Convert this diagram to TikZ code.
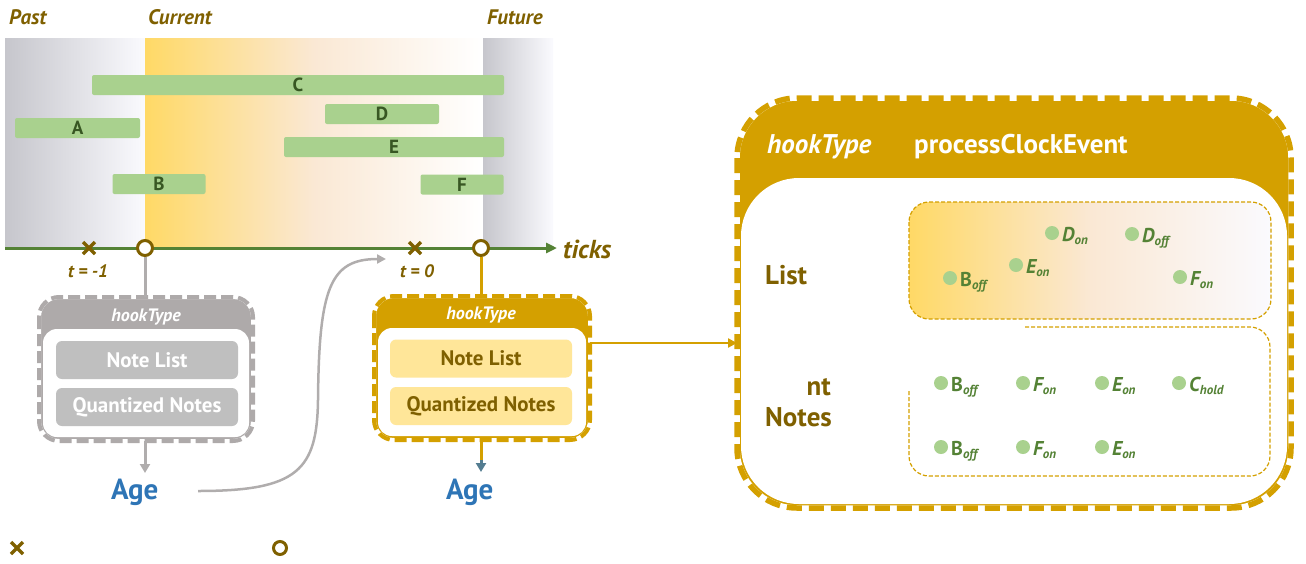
\documentclass[tikz,border=0pt]{standalone}
\usepackage{fontspec}
\setmainfont{PT Sans}
\usetikzlibrary{arrows.meta}

\definecolor{gold}{RGB}{212,160,0}
\definecolor{olive}{RGB}{127,96,0}
\definecolor{axisgreen}{RGB}{84,130,53}
\definecolor{barfill}{RGB}{169,209,142}
\definecolor{bartext}{RGB}{56,87,35}
\definecolor{agentblue}{RGB}{46,117,182}
\definecolor{greybox}{RGB}{174,170,170}
\definecolor{greyinner}{RGB}{191,191,191}
\definecolor{greyline}{RGB}{176,173,173}
\definecolor{paleyellow}{RGB}{255,230,153}
\definecolor{sunyellow}{RGB}{255,217,102}
\definecolor{fogleft}{RGB}{198,198,204}
\definecolor{fogright}{RGB}{250,250,254}
\definecolor{peach}{RGB}{250,232,212}
\definecolor{steeltip}{RGB}{84,125,145}

\newcommand\lowsub[1]{\raisebox{-3pt}{\fontsize{13}{13}\selectfont\itshape #1}}
\newcommand\notedot[4]{%
  \fill[barfill] (#2,#3) circle (7);
  \node[evlabel, anchor=base west] (#1) at (#2+10,#3+8) {#4};}

\begin{document}
\begin{tikzpicture}[x=1pt,y=-1pt,
  toplbl/.style={font=\fontsize{21}{24}\selectfont\bfseries\itshape, text=olive, inner sep=0pt},
  bar/.style={fill=barfill, rounded corners=2pt, inner sep=0pt, minimum height=20pt,
              text=bartext, font=\fontsize{19}{20}\selectfont\bfseries},
  axisline/.style={draw=axisgreen, line width=3pt, -{Triangle[length=11pt,width=10pt]}},
  ring/.style={circle, draw=olive, line width=3pt, fill=white, minimum size=15pt, inner sep=0pt},
  xmk/.style={draw=olive, line width=3.5pt},
  tlbl/.style={font=\fontsize{18}{20}\selectfont\bfseries\itshape, text=olive, inner sep=0pt},
  hooksmall/.style={font=\fontsize{18}{20}\selectfont\bfseries\itshape, text=white, inner sep=0pt},
  greybar/.style={fill=greyinner, rounded corners=6pt, minimum width=182pt, minimum height=38pt,
                  inner sep=0pt, text=white, font=\fontsize{21}{24}\selectfont\bfseries},
  goldbar/.style={fill=paleyellow, rounded corners=6pt, minimum width=182pt, minimum height=38pt,
                  inner sep=0pt, text=olive, font=\fontsize{21}{24}\selectfont\bfseries},
  agent/.style={font=\fontsize{29}{32}\selectfont\bfseries, text=agentblue, inner sep=0pt},
  bighead/.style={font=\fontsize{27}{30}\selectfont\bfseries, text=white, inner sep=0pt},
  sidelbl/.style={font=\fontsize{27}{30}\selectfont\bfseries, text=olive, inner sep=0pt},
  evlabel/.style={font=\fontsize{20}{22}\selectfont\bfseries\itshape, text=axisgreen, inner sep=0pt},
  greyconn/.style={draw=greyline, line width=3pt},
  goldconn/.style={draw=gold, line width=3pt},
  subbox/.style={draw=gold, line width=1.2pt, dash pattern=on 4pt off 2pt, rounded corners=20pt}
]
\useasboundingbox (0,0) rectangle (1306,563);

% ---------- time bands ----------
\shade[left color=fogleft, right color=fogright] (5,38) rectangle (145,248);
\shade[left color=sunyellow, right color=white, middle color=peach] (145,38) rectangle (483,248);
\shade[left color=fogleft, right color=fogright] (483,38) rectangle (553,248);

\node[toplbl, anchor=west] (past) at (9,17) {Past};
\node[toplbl, anchor=west] (current) at (148,17) {Current};
\node[toplbl, anchor=west] (future) at (487,17) {Future};

% ---------- notes ----------
\node[bar, minimum width=412pt] (barC) at (298,85) {C};
\node[bar, minimum width=114pt] (barD) at (382,114) {D};
\node[bar, minimum width=125pt] (barA) at (77.5,128) {A};
\node[bar, minimum width=220pt] (barE) at (394,147) {E};
\node[bar, minimum width=93pt] (barB) at (159,184) {B};
\node[bar, minimum width=83pt] (barF) at (462,184.5) {F};

% ---------- time axis ----------
\coordinate (axisL) at (5,248);
\coordinate (axisR) at (557,248);
\draw[axisline] (axisL) -- (axisR);
\node[font=\fontsize{26}{30}\selectfont\bfseries\itshape, text=olive, inner sep=0pt, anchor=west] (ticks) at (563,249) {ticks};

\coordinate (xprev) at (89,248);
\coordinate (xnow) at (415,248);
\draw[xmk] ([shift={(-6,-6)}]xprev) -- ([shift={(6,6)}]xprev) ([shift={(-6,6)}]xprev) -- ([shift={(6,-6)}]xprev);
\draw[xmk] ([shift={(-6,-6)}]xnow) -- ([shift={(6,6)}]xnow) ([shift={(-6,6)}]xnow) -- ([shift={(6,-6)}]xnow);
\node[tlbl] (tprev) at (88,271) {t = -1};
\node[tlbl] (tnow) at (417,271) {t = 0};

% ---------- previous hook (grey) ----------
\coordinate (lboxN) at (145,297);
\coordinate (lboxS) at (145,441);
\fill[greybox, rounded corners=20pt] (39,297) rectangle (253,441);
\fill[white, rounded corners=14pt] (43,329) rectangle (249,437);
\draw[white, line width=4pt, rounded corners=20pt] (39,297) rectangle (253,441);
\draw[greybox, line width=4pt, dash pattern=on 12pt off 5pt, rounded corners=20pt] (39,297) rectangle (253,441);
\node[hooksmall] (lhook) at (146,317) {hookType};
\node[greybar] (lnotes) at (147,360) {Note List};
\node[greybar] (lquant) at (147,407) {Quantized Notes};

% ---------- current hook (gold) ----------
\coordinate (gboxN) at (481,296);
\coordinate (gboxS) at (481,440);
\coordinate (gboxE) at (590,343);
\fill[gold, rounded corners=20pt] (374,296) rectangle (590,440);
\fill[white, rounded corners=14pt] (378,328) rectangle (586,436);
\draw[white, line width=4pt, rounded corners=20pt] (374,296) rectangle (590,440);
\draw[gold, line width=4pt, dash pattern=on 12pt off 5pt, rounded corners=20pt] (374,296) rectangle (590,440);
\node[hooksmall] (ghook) at (481,315) {hookType};
\node[goldbar] (gnotes) at (481,358.5) {Note List};
\node[goldbar] (gquant) at (481,406) {Quantized Notes};

% ---------- markers on the axis ----------
\node[ring] (nowprev) at (145,248) {};
\node[ring] (nownow) at (481,248) {};
\draw[greyconn] (nowprev.south) -- (lboxN);
\draw[goldconn] (nownow.south) -- (gboxN);

% ---------- agents ----------
\node[agent, anchor=base west] (agentL) at (111,499) {Age};
\node[agent, anchor=base west] (agentR) at (446,499) {Age};
\coordinate (agentLtip) at (145,473);
\coordinate (agentRmid) at (481,460);
\coordinate (agentRtip) at (481,472);
\draw[greyconn, -{Triangle[length=9pt,width=10pt]}] (lboxS) -- (agentLtip);
\draw[goldconn] (gboxS) -- (agentRmid);
\draw[draw=steeltip, line width=3pt, -{Triangle[length=9pt,width=10pt]}] (agentRmid) -- (agentRtip);

\coordinate (agentLtail) at (198,491);
\coordinate (tnowhead) at (386,259);
\draw[draw=greyline, line width=2.5pt, -{Triangle[length=9pt,width=9pt]}]
  (agentLtail) .. controls (298,491) and (317,470) .. (318,400)
  .. controls (319,288) and (330,259) .. (tnowhead);

% ---------- expanded hook ----------
\coordinate (bigW) at (737,343);
\fill[gold, rounded corners=60pt] (737,98) rectangle (1291,508);
\fill[white, rounded corners=58pt] (741,178) rectangle (1287,504);
\draw[white, line width=5.5pt, rounded corners=60pt] (737,98) rectangle (1291,508);
\draw[gold, line width=5.5pt, dash pattern=on 15pt off 7pt, rounded corners=60pt] (737,98) rectangle (1291,508);
\draw[draw=gold, line width=2.5pt, -{Triangle[length=9pt,width=9pt]}] (gboxE) -- (bigW);

\node[bighead, font=\fontsize{27}{30}\selectfont\bfseries\itshape, anchor=west] (bhook) at (767,147) {hookType};
\node[bighead, anchor=west] (bproc) at (914,147) {processClockEvent};

\node[sidelbl, anchor=west] (blist) at (765,275) {List};
\node[sidelbl, anchor=east] (bnt) at (831,387) {nt};
\node[sidelbl, anchor=west] (bnotes) at (765,417) {Notes};

% note list
\shade[rounded corners=20pt, left color=sunyellow, right color=fogright, middle color=peach] (909,202) rectangle (1271,319);
\draw[subbox] (909,202) rectangle (1271,319);
\notedot{ldon}{1052}{233}{D\lowsub{on}}
\notedot{ldoff}{1132}{234}{D\lowsub{off}}
\notedot{leon}{1016}{265}{E\lowsub{on}}
\notedot{lboff}{950}{278}{{\upshape B}\lowsub{off}}
\notedot{lfon}{1180}{277}{F\lowsub{on}}

% quantized notes
\draw[subbox] (1025,327) -- (1270,327) -- (1270,476) -- (909,476) -- (909,390);
\notedot{qboff}{941}{383}{{\upshape B}\lowsub{off}}
\notedot{qfon}{1023}{383}{F\lowsub{on}}
\notedot{qeon}{1102}{383}{E\lowsub{on}}
\notedot{qchold}{1179}{383}{C\lowsub{hold}}
\notedot{rboff}{941}{447}{{\upshape B}\lowsub{off}}
\notedot{rfon}{1023}{447}{F\lowsub{on}}
\notedot{reon}{1102}{447}{E\lowsub{on}}

% ---------- legend marks ----------
\coordinate (legx) at (17,548);
\draw[xmk] ([shift={(-6,-6)}]legx) -- ([shift={(6,6)}]legx) ([shift={(-6,6)}]legx) -- ([shift={(6,-6)}]legx);
\node[ring, minimum size=13pt] (legring) at (280,548) {};
\end{tikzpicture}
\end{document}
